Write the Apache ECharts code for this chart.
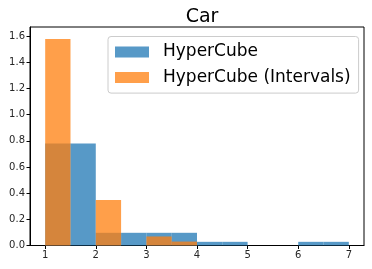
<!DOCTYPE html>
<html>
<head>
<meta charset="utf-8">
<script src="https://cdn.jsdelivr.net/npm/echarts@6/dist/echarts.min.js"></script>
<style>html,body{margin:0;padding:0;background:#fff}#c{width:372px;height:269px}</style>
</head>
<body>
<div id="c"></div>
<script>
const titleText = 'Car';
const seriesNames = ['HyperCube', 'HyperCube (Intervals)'];
const hyperCubeEdges = [1, 1.5, 2, 2.5, 3, 3.5, 4, 4.5, 5, 5.5, 6, 6.5, 7];
const hyperCubeDensity = [0.78, 0.78, 0.097, 0.097, 0.097, 0.097, 0.028, 0.028, 0, 0, 0.028, 0.028];
const intervalsEdges = [1, 1.5, 2, 2.5, 3, 3.5, 4];
const intervalsDensity = [1.578, 0, 0.348, 0, 0.069, 0.03];
const xTicks = [1, 2, 3, 4, 5, 6, 7];
const yTicks = [0, 0.2, 0.4, 0.6, 0.8, 1.0, 1.2, 1.4, 1.6];

function toBins(edges, vals) {
  return vals.map((v, i) => [edges[i], edges[i + 1], v]);
}
function renderBar(params, api) {
  const p0 = api.coord([api.value(0), api.value(2)]);
  const p1 = api.coord([api.value(1), 0]);
  return {
    type: 'rect',
    shape: { x: p0[0], y: p0[1], width: p1[0] - p0[0], height: p1[1] - p0[1] },
    style: api.style()
  };
}
const chart = echarts.init(document.getElementById('c'), null, { renderer: 'canvas' });
const font = 'DejaVu Sans';
chart.setOption({
  animation: false,
  backgroundColor: '#fff',
  title: {
    text: titleText, left: 197, top: 3, textAlign: 'center',
    textStyle: { fontFamily: font, fontSize: 19, fontWeight: 'normal', color: '#000' }
  },
  legend: {
    orient: 'vertical', left: 108, top: 36.5,
    itemWidth: 34, itemHeight: 11, itemGap: 8.6,
    padding: [7, 8, 7, 7],
    backgroundColor: 'rgba(255,255,255,0.8)',
    borderColor: '#cccccc', borderWidth: 1, borderRadius: 3,
    icon: 'rect',
    textStyle: { fontFamily: font, fontSize: 17, color: '#000', padding: [0, 0, 0, 9] },
    data: seriesNames
  },
  grid: { left: 30, right: 8, top: 27, bottom: 23.5, show: true, borderColor: '#000', borderWidth: 1, containLabel: false },
  xAxis: {
    type: 'value', min: 0.7, max: 7.3,
    axisLine: { show: true, lineStyle: { color: '#000' } },
    axisTick: { show: true, length: 3.5, customValues: xTicks, lineStyle: { color: '#000' } },
    axisLabel: { customValues: xTicks, fontFamily: font, fontSize: 10, color: '#262626', margin: 5 },
    splitLine: { show: false }
  },
  yAxis: {
    type: 'value', min: 0, max: 1.669,
    axisLine: { show: true, lineStyle: { color: '#000' } },
    axisTick: { show: true, length: 3.5, customValues: yTicks, lineStyle: { color: '#000' } },
    axisLabel: { customValues: yTicks, fontFamily: font, fontSize: 10, color: '#262626', margin: 5,
      formatter: v => v.toFixed(1) },
    splitLine: { show: false }
  },
  series: [
    { name: seriesNames[0], type: 'custom', renderItem: renderBar,
      itemStyle: { color: 'rgba(31,119,180,0.75)' },
      encode: { x: [0, 1], y: 2 },
      data: toBins(hyperCubeEdges, hyperCubeDensity) },
    { name: seriesNames[1], type: 'custom', renderItem: renderBar,
      itemStyle: { color: 'rgba(255,127,14,0.75)' },
      encode: { x: [0, 1], y: 2 },
      data: toBins(intervalsEdges, intervalsDensity) }
  ]
});
</script>
</body>
</html>
